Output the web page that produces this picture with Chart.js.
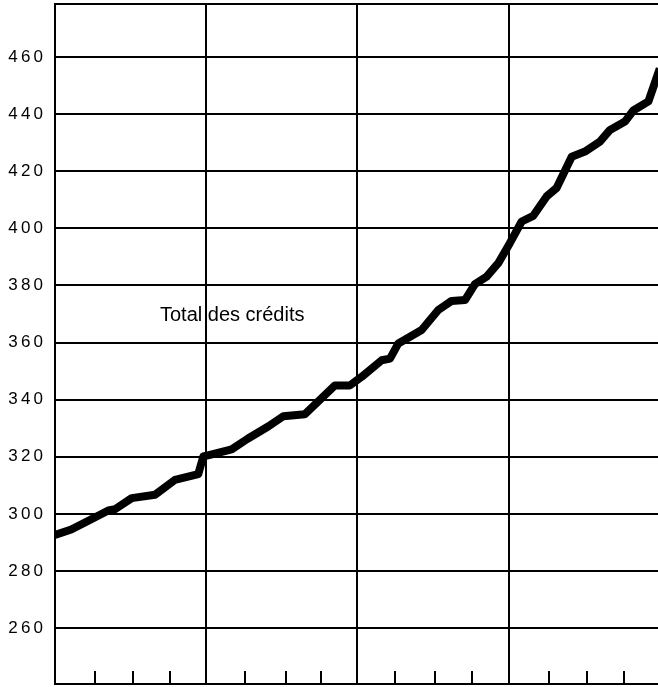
<!DOCTYPE html>
<html>
<head>
<meta charset="utf-8">
<script src="https://cdn.jsdelivr.net/npm/chart.js@4.4.1/dist/chart.umd.min.js"></script>
<style>
  html, body { margin: 0; padding: 0; background: #ffffff; }
  canvas { display: block; }
</style>
</head>
<body>
<canvas id="c" width="658" height="687"></canvas>
<script>
// ---- data ----
// x: months from the start of the period (left edge = 0), y: total credits
const months = [0, 1.29, 2.96, 4.23, 4.76, 6.09, 7.94, 9.52, 11.37, 11.77, 12.30, 14.02, 15.29, 16.95, 18.12, 19.84,
                22.22, 23.41, 24.34, 25.93, 26.59, 27.25, 29.10, 30.42, 31.48, 32.54, 33.33, 34.26, 35.18, 36.11,
                37.04, 37.96, 39.02, 39.82, 41.01, 42.06, 43.25, 44.05, 45.24, 45.90, 47.10, 48.00];
const credits = [292.6, 294.5, 298.3, 301.2, 301.6, 305.5, 306.7, 311.9, 313.9, 320.1, 320.7, 322.6, 326.3, 330.7, 334.2, 334.9,
                 345.0, 345.0, 348.0, 353.8, 354.4, 359.7, 364.4, 371.4, 374.6, 374.9, 380.5, 383.1, 387.8, 394.9,
                 402.4, 404.4, 411.2, 414.2, 425.1, 426.9, 430.4, 434.5, 437.4, 441.3, 444.5, 456.0];
const yTickValues = [260, 280, 300, 320, 340, 360, 380, 400, 420, 440, 460];
const yearLines = [12, 24, 36];
const quarterTicks = [3.2, 6.2, 9.1, 15.1, 18.3, 21.1, 27.0, 30.2, 33.1, 39.2, 42.2, 45.2];
const seriesLabel = 'Total des crédits';

// ---- axis ranges / annotation anchor ----
const xMin = 0, xMax = 47.86;
const yMin = 240.4, yMax = 478.6;
const labelAnchor = { x: 8.33, y: 367.7 };

const points = months.map((m, i) => ({ x: m, y: credits[i] }));

const extras = {
  id: 'extras',
  beforeDraw(chart) {
    const ctx = chart.ctx;
    ctx.save();
    ctx.fillStyle = '#ffffff';
    ctx.fillRect(0, 0, chart.width, chart.height);
    ctx.restore();
    ctx.letterSpacing = '3.2px';
  },
  afterDatasetsDraw(chart) {
    const { ctx, chartArea, scales } = chart;
    const x = scales.x, y = scales.y;
    ctx.save();
    ctx.letterSpacing = '0px';
    ctx.strokeStyle = '#000';
    ctx.lineWidth = 2;
    quarterTicks.forEach(q => {
      const px = Math.round(x.getPixelForValue(q));
      ctx.beginPath();
      ctx.moveTo(px, chartArea.bottom);
      ctx.lineTo(px, chartArea.bottom - 13);
      ctx.stroke();
    });
    ctx.fillStyle = '#000';
    ctx.font = '20px "Liberation Sans", Arial, sans-serif';
    ctx.textAlign = 'left';
    ctx.textBaseline = 'alphabetic';
    ctx.fillText(seriesLabel, x.getPixelForValue(labelAnchor.x), y.getPixelForValue(labelAnchor.y));
    ctx.restore();
  },
  afterDraw(chart) {
    chart.ctx.letterSpacing = '0px';
  }
};

const noPad = s => { s.paddingTop = 0; s.paddingBottom = 0; s.paddingLeft = 0; s.paddingRight = 0; };

new Chart(document.getElementById('c'), {
  type: 'line',
  data: {
    datasets: [{
      label: seriesLabel,
      data: points,
      borderColor: '#000',
      borderWidth: 8,
      pointRadius: 0,
      tension: 0,
      fill: false,
      borderJoinStyle: 'round',
      borderCapStyle: 'butt'
    }]
  },
  options: {
    responsive: false,
    animation: false,
    devicePixelRatio: 1,
    layout: { padding: { left: 0, top: 4, right: 0, bottom: 3 } },
    plugins: { legend: { display: false }, tooltip: { enabled: false } },
    scales: {
      x: {
        type: 'linear', position: 'bottom', min: xMin, max: xMax,
        afterBuildTicks: s => { s.ticks = yearLines.map(v => ({ value: v })); },
        afterFit: s => { s.height = 0; noPad(s); },
        grid: { color: '#000', lineWidth: 2, drawTicks: false },
        border: { display: true, color: '#000', width: 2 },
        ticks: { display: false }
      },
      xTop: {
        type: 'linear', position: 'top', min: xMin, max: xMax,
        afterFit: s => { s.height = 0; noPad(s); },
        grid: { display: false, drawTicks: false },
        border: { display: true, color: '#000', width: 2 },
        ticks: { display: false }
      },
      y: {
        type: 'linear', position: 'left', min: yMin, max: yMax,
        afterBuildTicks: s => { s.ticks = yTickValues.map(v => ({ value: v })); },
        afterFit: s => { s.width = 55; noPad(s); },
        grid: { color: '#000', lineWidth: 2, drawTicks: false },
        border: { display: true, color: '#000', width: 2 },
        ticks: {
          color: '#000', padding: 8.8,
          font: { family: '"Liberation Sans", Arial, sans-serif', size: 17 }
        }
      }
    }
  },
  plugins: [extras]
});
</script>
</body>
</html>
